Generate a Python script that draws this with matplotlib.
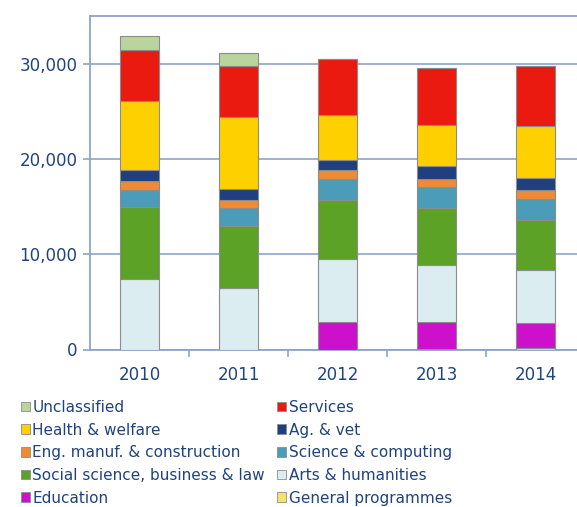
import numpy as np
import matplotlib
matplotlib.use('Agg')
import matplotlib.pyplot as plt
from matplotlib.patches import Patch

years = ['2010', '2011', '2012', '2013', '2014']

# stack order bottom -> top
categories = ['General programmes', 'Education', 'Arts & humanities',
              'Social science, business & law', 'Science & computing',
              'Eng. manuf. & construction', 'Ag. & vet', 'Health & welfare',
              'Services', 'Unclassified']

general = [0, 0, 0, 50, 200]
education = [0, 0, 2870, 2820, 2600]
arts = [7450, 6470, 6650, 5980, 5520]
social = [7480, 6470, 6220, 5980, 5320]
science = [1790, 1860, 2170, 2200, 2170]
eng = [940, 940, 980, 880, 910]
ag = [1230, 1120, 1050, 1330, 1300]
health = [7170, 7520, 4720, 4340, 5410]
services = [5320, 5420, 5840, 5940, 6300]
unclassified = [1500, 1330, 0, 0, 0]

series = [general, education, arts, social, science, eng, ag, health,
          services, unclassified]
colors = ['#f2e46a', '#cc10cc', '#dcedf2', '#5ca226', '#4a9cb8',
          '#f08a34', '#1f3f7e', '#ffd000', '#ea1a10', '#b9d49c']

text_col = '#1f4380'
axis_col = '#8ea4c8'

fig = plt.figure(figsize=(5.77, 5.07), dpi=100)
ax = fig.add_axes([90 / 577, 1 - 349.5 / 507, 495 / 577, 333.5 / 507])

x = np.arange(len(years))
bottom = np.zeros(len(years))
handles = {}
for name, vals, c in zip(categories, series, colors):
    vals = np.array(vals, dtype=float)
    ax.bar(x, vals, width=0.39, bottom=bottom, color=c,
           edgecolor='#8c8c8c', linewidth=0.8, zorder=3)
    bottom += vals
    handles[name] = Patch(facecolor=c, edgecolor='#8c8c8c', linewidth=0.6)

ax.set_xlim(-0.5, 4.5)
ax.set_ylim(0, 35000)
ax.set_yticks([0, 10000, 20000, 30000])
ax.set_yticklabels(['0', '10,000', '20,000', '30,000'])
ax.set_xticks(x)
ax.set_xticklabels(years)
ax.set_xticks([0.5, 1.5, 2.5, 3.5], minor=True)

ax.grid(axis='y', color=axis_col, linewidth=1.2, zorder=0)
for s in ['left', 'bottom', 'top']:
    ax.spines[s].set_color(axis_col)
    ax.spines[s].set_linewidth(1.3)
ax.spines['right'].set_visible(False)

ax.tick_params(axis='y', colors=axis_col, length=5, width=1.2,
               labelcolor=text_col, labelsize=12, pad=4)
ax.tick_params(axis='x', which='major', length=0, labelcolor=text_col,
               labelsize=12, pad=12)
ax.tick_params(axis='x', which='minor', length=5, width=1.2, colors=axis_col)

order = ['Unclassified', 'Health & welfare', 'Eng. manuf. & construction',
         'Social science, business & law', 'Education',
         'Services', 'Ag. & vet', 'Science & computing',
         'Arts & humanities', 'General programmes']
leg = fig.legend([handles[n] for n in order], order, ncol=2,
                 loc='upper left', bbox_to_anchor=(21 / 577, 1 - 400 / 507),
                 frameon=False, fontsize=11, handlelength=0.6,
                 handleheight=0.6, handletextpad=0.15, labelspacing=0.5,
                 columnspacing=0.8, borderpad=0, borderaxespad=0)
for t in leg.get_texts():
    t.set_color(text_col)

fig.savefig('out.png', dpi=100)
